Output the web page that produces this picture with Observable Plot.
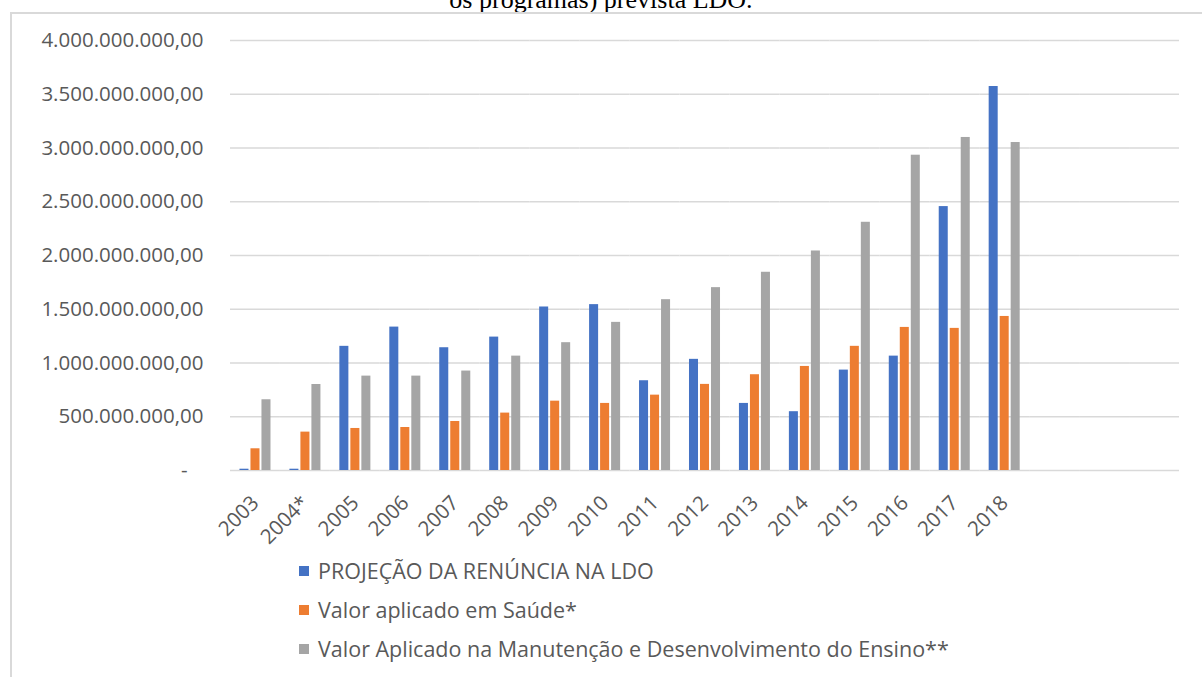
<!DOCTYPE html>
<html>
<head>
<meta charset="utf-8">
<script src="https://cdn.jsdelivr.net/npm/d3@7"></script>
<script src="https://cdn.jsdelivr.net/npm/@observablehq/plot@0.6"></script>
<style>
  html, body { margin: 0; padding: 0; background: #fff; overflow: hidden; }
  body { width: 1202px; height: 677px; position: relative; }
  #title { position: absolute; left: 0; width: 1202px; top: -15px; text-align: center;
           font-family: "Liberation Serif", "Times New Roman", serif; font-size: 26px; line-height: 30px; color: #000; }
  #frame { position: absolute; left: 10px; top: 12px; width: 1300px; height: 800px;
           border-left: 2px solid #d9d9d9; border-top: 2px solid #d9d9d9; }
  #chart { position: absolute; left: 0; top: 0; }
  #legend { position: absolute; left: 299px; top: 551px; font-family: "Open Sans", sans-serif; font-size: 21.5px; color: #595959; }
  .item { height: 39px; display: flex; align-items: center; white-space: nowrap; }
  .sw { width: 10px; height: 10px; margin-right: 9px; display: inline-block; }
</style>
</head>
<body>
<div id="title">os programas) prevista LDO.</div>
<div id="frame"></div>
<div id="chart"></div>
<div id="legend"></div>
<script>
const years = ["2003","2004*","2005","2006","2007","2008","2009","2010","2011","2012","2013","2014","2015","2016","2017","2018"];
const emptySlots = ["2019","2020","2021"];
const seriesNames = [
  "PROJEÇÃO DA RENÚNCIA NA LDO",
  "Valor aplicado em Saúde*",
  "Valor Aplicado na Manutenção e Desenvolvimento do Ensino**"
];
const seriesColors = ["#4472C4", "#ED7D31", "#A5A5A5"];
const renuncia = [12e6, 12e6, 1155e6, 1334e6, 1142e6, 1241e6, 1521e6, 1543e6, 835e6, 1034e6, 624e6, 547e6, 934e6, 1064e6, 2455e6, 3572e6];
const saude    = [202e6, 357e6, 391e6, 400e6, 456e6, 534e6, 645e6, 624e6, 701e6, 801e6, 891e6, 968e6, 1155e6, 1331e6, 1322e6, 1433e6];
const ensino   = [658e6, 800e6, 878e6, 878e6, 925e6, 1064e6, 1189e6, 1378e6, 1589e6, 1701e6, 1844e6, 2042e6, 2309e6, 2933e6, 3098e6, 3051e6];
const yTicks = [0, 5e8, 1e9, 1.5e9, 2e9, 2.5e9, 3e9, 3.5e9, 4e9];

const seriesValues = [renuncia, saude, ensino];
const data = [];
years.forEach((y, i) => seriesNames.forEach((s, j) => data.push({year: y, series: s, value: seriesValues[j][i]})));
const allSlots = [...years, ...emptySlots];
const gridData = [];
allSlots.forEach(slot => yTicks.forEach(v => gridData.push({slot, value: v})));

const br = d3.formatLocale({decimal: ",", thousands: ".", grouping: [3], currency: ["R$", ""]});
const fmt = br.format(",.2f");
const fmtY = v => v === 0 ? "-\u00A0\u00A0\u00A0" : fmt(v);

const chart = Plot.plot({
  width: 1202,
  height: 545,
  marginLeft: 230,
  marginRight: 23,
  marginTop: 40,
  marginBottom: 75,
  style: {fontFamily: "'Open Sans', sans-serif", fontSize: "20.5px", color: "#595959", background: "transparent", overflow: "visible"},
  fx: {domain: allSlots, padding: 0, round: false, label: null, axis: "bottom",
       tickFormat: d => years.includes(d) ? d : "", tickRotate: -45, tickSize: 0, tickPadding: 29},
  x: {domain: seriesNames, paddingInner: 0.18, paddingOuter: 0.86, round: false, axis: null},
  y: {domain: [0, 4e9], ticks: yTicks, tickFormat: fmtY, tickSize: 0, tickPadding: 27, label: null},
  color: {domain: seriesNames, range: seriesColors},
  marks: [
    Plot.ruleY(gridData, {fx: "slot", y: "value", stroke: "#d9d9d9", strokeWidth: 1.3}),
    Plot.barY(data, {fx: "year", x: "series", y: "value", fill: "series"})
  ]
});
document.getElementById("chart").appendChild(chart);

const legend = document.getElementById("legend");
seriesNames.forEach((s, i) => {
  const row = document.createElement("div");
  row.className = "item";
  const sw = document.createElement("span");
  sw.className = "sw";
  sw.style.background = seriesColors[i];
  row.appendChild(sw);
  row.appendChild(document.createTextNode(s));
  legend.appendChild(row);
});
</script>
</body>
</html>
